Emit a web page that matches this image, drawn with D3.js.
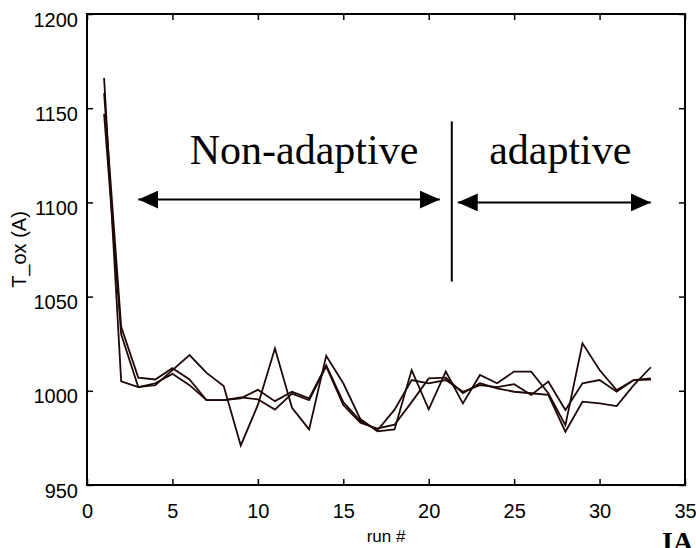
<!DOCTYPE html>
<meta charset="utf-8">
<title>T_ox per run</title>
<style>
body { margin: 0; background: #fff; }
svg { display: block; background: #fff; }
.axis text { font-family: "Liberation Sans", Arial, sans-serif; font-size: 20px; fill: #000; }
.axis line { stroke: #000; stroke-width: 1.5; }
.axis path { display: none; }
</style>
<svg width="696" height="548"></svg>
<script src="https://cdn.jsdelivr.net/npm/d3@7"></script>
<script>
// run numbers and three T_ox traces
var runs = d3.range(1, 34)
var seriesA = [1166, 1005, 1002, 1004, 1009, 1003, 995, 995, 996, 1000.5, 994.5, 999.5, 996, 1013.5, 994, 984, 979, 990, 1005.7, 1004, 1005.7, 999.5, 1003, 1002, 1003.5, 997.8, 1004.9, 989.8, 1004, 1005.7, 999.5, 1005.7, 1006.6]
var seriesB = [1158, 1034, 1007, 1006, 1012, 1006, 995, 995, 996.5, 995.5, 990, 998.5, 995, 1013, 992.5, 983, 980, 982, 994, 1006.6, 1007, 998.7, 1004, 1001.3, 999.5, 998.7, 997.8, 978.3, 994.2, 993.3, 991.9, 1003, 1012.5]
var seriesC = [1147, 1030, 1002, 1003, 1011, 1019, 1009.5, 1002.5, 971, 992.5, 1022.5, 991, 979.5, 1018.6, 1004, 985, 978.5, 979.5, 1011, 990.2, 1010.2, 993.3, 1008.4, 1004, 1010.2, 1010.2, 998.7, 981.8, 1025.2, 1011, 1000.4, 1005.7, 1006]
var xTicks = [0, 5, 10, 15, 20, 25, 30, 35]
var yTicks = [950, 1000, 1050, 1100, 1150, 1200]

var svg = d3.select("svg"),
  plotL = 87, plotR = 685, plotT = 14, plotB = 485

var x = d3.scaleLinear().domain([0, 35]).range([plotL, plotR])
var y = d3.scaleLinear().domain([950, 1200]).range([plotB, plotT])

// axes with inward ticks on all four sides
var gx = svg.append("g").attr("class", "axis").attr("transform", "translate(0," + plotB + ")")
  .call(d3.axisBottom(x).tickValues(xTicks).tickFormat(d3.format("d")).tickSizeInner(-6).tickSizeOuter(0).tickPadding(19))

var gy = svg.append("g").attr("class", "axis").attr("transform", "translate(" + plotL + ",0)")
  .call(d3.axisLeft(y).tickValues(yTicks).tickFormat(d3.format("d")).tickSizeInner(-6).tickSizeOuter(0).tickPadding(9))
gy.selectAll("text").attr("dy", "0.6em")

svg.append("g").attr("class", "axis").attr("transform", "translate(0," + plotT + ")")
  .call(d3.axisTop(x).tickValues(xTicks).tickSizeInner(-6).tickSizeOuter(0).tickFormat(""))
svg.append("g").attr("class", "axis").attr("transform", "translate(" + plotR + ",0)")
  .call(d3.axisRight(y).tickValues(yTicks).tickSizeInner(-6).tickSizeOuter(0).tickFormat(""))

svg.append("rect")
  .attr("x", plotL).attr("y", plotT)
  .attr("width", plotR - plotL).attr("height", plotB - plotT)
  .attr("fill", "none").attr("stroke", "#000").attr("stroke-width", 2)

// data lines
var line = d3.line()
  .x(function(d, i) { return x(runs[i]) })
  .y(function(d) { return y(d) })

svg.append("g").selectAll("path")
  .data([seriesA, seriesB, seriesC])
  .enter().append("path")
    .attr("d", line)
    .attr("fill", "none")
    .attr("stroke", "#1e0808")
    .attr("stroke-width", 1.8)
    .attr("stroke-linejoin", "miter")

// axis titles
svg.append("text")
  .attr("x", x(17.5)).attr("y", 542)
  .attr("text-anchor", "middle")
  .attr("font-family", "Liberation Sans, Arial, sans-serif")
  .attr("font-size", 17)
  .text("run #")

svg.append("text")
  .attr("transform", "translate(26," + y(1075) + ") rotate(-90)")
  .attr("text-anchor", "middle")
  .attr("font-family", "Liberation Sans, Arial, sans-serif")
  .attr("font-size", 20)
  .text("T_ox (A)")

// annotations
var serif = "Liberation Serif, Times New Roman, serif"
svg.append("text").attr("x", x(12.7)).attr("y", 164)
  .attr("text-anchor", "middle").attr("font-family", serif).attr("font-size", 42)
  .text("Non-adaptive")
svg.append("text").attr("x", x(27.7)).attr("y", 164)
  .attr("text-anchor", "middle").attr("font-family", serif).attr("font-size", 42)
  .text("adaptive")

svg.append("line")
  .attr("x1", x(21.35)).attr("x2", x(21.35))
  .attr("y1", y(1143)).attr("y2", y(1058))
  .attr("stroke", "#000").attr("stroke-width", 2)

svg.append("defs").append("marker")
  .attr("id", "head")
  .attr("viewBox", "0 0 20 18")
  .attr("refX", 20).attr("refY", 9)
  .attr("markerWidth", 20).attr("markerHeight", 18)
  .attr("markerUnits", "userSpaceOnUse")
  .attr("orient", "auto-start-reverse")
  .append("path").attr("d", "M0,0L20,9L0,18Z").attr("fill", "#000")

function arrow(r0, r1, v) {
  svg.append("line")
    .attr("x1", x(r0)).attr("x2", x(r1))
    .attr("y1", y(v)).attr("y2", y(v))
    .attr("stroke", "#000").attr("stroke-width", 2)
    .attr("marker-start", "url(#head)")
    .attr("marker-end", "url(#head)")
}
arrow(3.0, 20.65, 1101.5)
arrow(21.7, 33.0, 1100)

svg.append("text").attr("x", 662).attr("y", 551)
  .attr("font-family", serif).attr("font-weight", "bold").attr("font-size", 28)
  .text("IA")
</script>
